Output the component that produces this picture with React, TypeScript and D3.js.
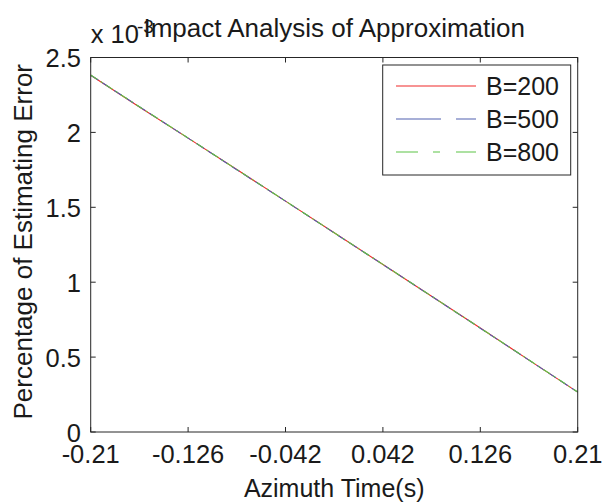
import React from "react";
import * as d3 from "d3";

// Azimuth time samples (s) and error percentage (x 1e-3) for each bandwidth
const azimuthTime = [-0.21, -0.168, -0.126, -0.084, -0.042, 0, 0.042, 0.084, 0.126, 0.168, 0.21];
const errB200 = [2.382, 2.170, 1.962, 1.752, 1.541, 1.330, 1.118, 0.906, 0.694, 0.480, 0.266];
const errB500 = [2.382, 2.171, 1.962, 1.751, 1.541, 1.329, 1.118, 0.906, 0.693, 0.480, 0.266];
const errB800 = [2.383, 2.171, 1.963, 1.752, 1.542, 1.330, 1.119, 0.907, 0.694, 0.481, 0.267];

const seriesNames = ["B=200", "B=500", "B=800"];
const xTicks = [-0.21, -0.126, -0.042, 0.042, 0.126, 0.21];
const xTickLabels = ["-0.21", "-0.126", "-0.042", "0.042", "0.126", "0.21"];
const yTicks = [0, 0.5, 1, 1.5, 2, 2.5];
const yTickLabels = ["0", "0.5", "1", "1.5", "2", "2.5"];

const W = 603;
const H = 502;
const left = 90.7;
const right = 577.7;
const top = 57.5;
const bottom = 432;
const FONT = "'Liberation Sans', Arial, Helvetica, sans-serif";
const INK = "#1a1a1a";

const styles = [
  { color: "#f02828", plotDash: "", legendDash: "" },
  { color: "#5060b0", plotDash: "9,5", legendDash: "45,15" },
  { color: "#5cc446", plotDash: "8,4,2,4", legendDash: "22,15,7,16" },
];

export default function App() {
  const x = d3.scaleLinear().domain([-0.21, 0.21]).range([left, right]);
  const y = d3.scaleLinear().domain([0, 2.5]).range([bottom, top]);
  const series = [errB200, errB500, errB800];
  const line = d3
    .line<number>()
    .x((_, i) => x(azimuthTime[i]))
    .y((d) => y(d));

  const tickLen = 5;
  const legX0 = 382.7;
  const legY0 = 65;
  const legW = 188;
  const legH = 110;

  return (
    <svg
      width={W}
      height={H}
      style={{ position: "fixed", left: 0, top: 0, background: "#fff" }}
      fontFamily={FONT}
    >
      <rect x={0} y={0} width={W} height={H} fill="#fff" />
      <defs>
        <clipPath id="plotArea">
          <rect x={left} y={top} width={right - left} height={bottom - top} />
        </clipPath>
      </defs>

      {/* data lines */}
      <g clipPath="url(#plotArea)">
        {series.map((s, i) => (
          <path
            key={seriesNames[i]}
            d={line(s) ?? ""}
            fill="none"
            stroke={styles[i].color}
            strokeWidth={1.1}
            strokeDasharray={styles[i].plotDash || undefined}
          />
        ))}
      </g>

      {/* axes box */}
      <rect
        x={left}
        y={top}
        width={right - left}
        height={bottom - top}
        fill="none"
        stroke="#262626"
        strokeWidth={1}
      />

      {/* x ticks, bottom and top */}
      {xTicks.map((t, i) => (
        <g key={"xt" + i}>
          <line x1={x(t)} x2={x(t)} y1={bottom} y2={bottom - tickLen} stroke="#262626" />
          <line x1={x(t)} x2={x(t)} y1={top} y2={top + tickLen} stroke="#262626" />
          <text x={x(t)} y={462.5} textAnchor="middle" fontSize={25.5} fill={INK}>
            {xTickLabels[i]}
          </text>
        </g>
      ))}

      {/* y ticks, left and right */}
      {yTicks.map((t, i) => (
        <g key={"yt" + i}>
          <line x1={left} x2={left + tickLen} y1={y(t)} y2={y(t)} stroke="#262626" />
          <line x1={right} x2={right - tickLen} y1={y(t)} y2={y(t)} stroke="#262626" />
          <text x={81} y={y(t) + 9.5} textAnchor="end" fontSize={25.5} fill={INK}>
            {yTickLabels[i]}
          </text>
        </g>
      ))}

      {/* exponent multiplier */}
      <text x={left} y={43.3} fontSize={25.5} fill={INK}>
        x 10
      </text>
      <text x={137} y={33} fontSize={19} fill={INK}>
        -3
      </text>

      {/* title */}
      <text x={(left + right) / 2} y={37.3} textAnchor="middle" fontSize={26} fill={INK}>
        Impact Analysis of Approximation
      </text>

      {/* axis labels */}
      <text x={(left + right) / 2} y={497} textAnchor="middle" fontSize={25} fill={INK}>
        Azimuth Time(s)
      </text>
      <text
        transform={`translate(31.5, ${(top + bottom) / 2 - 3}) rotate(-90)`}
        textAnchor="middle"
        fontSize={26}
        fill={INK}
      >
        Percentage of Estimating Error
      </text>

      {/* legend */}
      <rect
        x={legX0}
        y={legY0}
        width={legW}
        height={legH}
        fill="#fff"
        stroke="#262626"
        strokeWidth={1}
      />
      {seriesNames.map((name, i) => {
        const ly = 86 + i * 33;
        return (
          <g key={"lg" + name}>
            <line
              x1={396}
              x2={476}
              y1={ly}
              y2={ly}
              stroke={styles[i].color}
              strokeWidth={1.1}
              strokeDasharray={styles[i].legendDash || undefined}
            />
            <text x={486} y={ly + 9} fontSize={25} fill={INK}>
              {name}
            </text>
          </g>
        );
      })}
    </svg>
  );
}
